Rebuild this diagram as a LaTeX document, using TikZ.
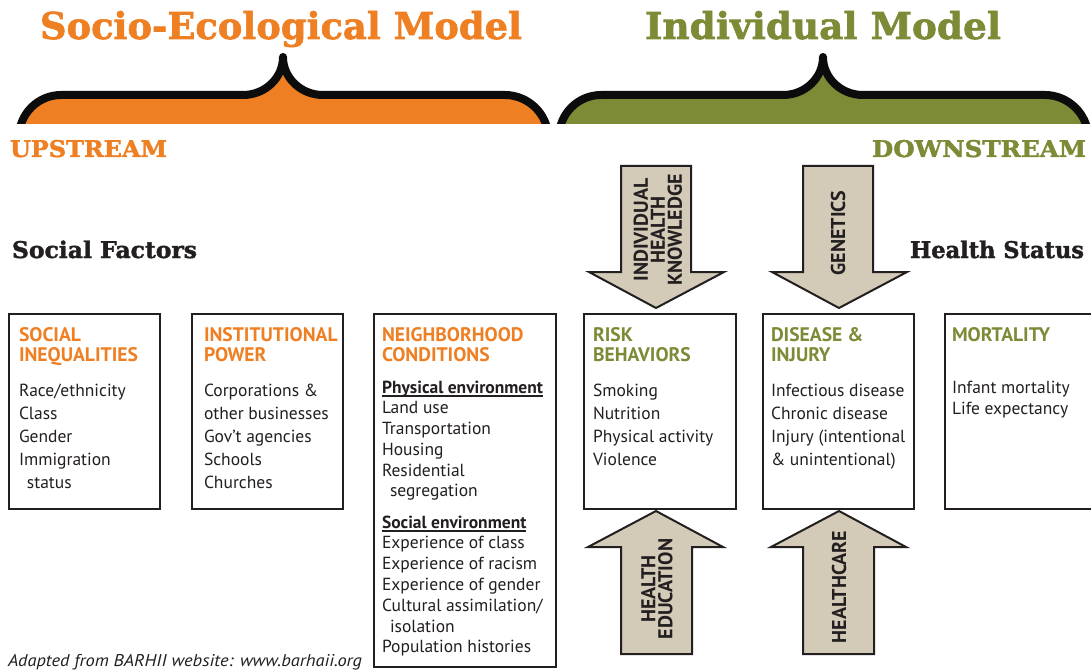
\documentclass[tikz,border=0pt]{standalone}
\usepackage{fontspec}
\setmainfont{PT Sans}
\newfontfamily\slab{DejaVu Serif}[BoldFeatures={FakeBold=1.6}]
\usepackage{graphicx}
\definecolor{orng}{RGB}{238,127,35}
\definecolor{grn}{RGB}{125,138,54}
\definecolor{tanc}{RGB}{211,203,184}
\definecolor{ink}{RGB}{35,31,32}
\definecolor{brk}{RGB}{12,12,12}
\tikzset{
  lbl/.style={inner sep=0pt, outer sep=0pt, anchor=base west, text=ink, font=\fontsize{17.5}{20}\selectfont},
  head/.style={inner sep=0pt, outer sep=0pt, anchor=base west, font=\bfseries\fontsize{19.6}{20}\selectfont},
  slabt/.style={inner sep=0pt, outer sep=0pt, anchor=base west, font=\slab\bfseries},
  card/.style={draw=ink, line width=2.2pt, anchor=north west, inner sep=0pt, outer sep=0pt, minimum height=195pt},
  bigarrow/.style={fill=tanc, draw=ink, line width=2pt, line join=miter},
  bracestroke/.style={draw=brk, line width=8pt, line cap=round, line join=round},
  vlab/.style={rotate=90, align=center, text=ink, inner sep=0pt, font=\bfseries\fontsize{20}{17}\selectfont}
}
\newcommand\stack[5]{%
  \foreach \t [count=\i from 0] in {#5} {\node[lbl] (#1\i) at (#2,#3+\i*#4) {\t};}}
\begin{document}
\begin{tikzpicture}[x=1pt,y=-1pt]
\useasboundingbox (0,0) rectangle (1091,671);
\fill[white] (0,0) rectangle (1091,671);
% braces
\begin{scope}
\clip (0,0) rectangle (1091,124);
\foreach \dx/\c in {0/orng,540/grn} {
  \begin{scope}[xshift=\dx pt]
  \fill[\c] (19,137) .. controls (19,114) and (38,95) .. (61,95) -- (243,95)
     .. controls (265,95) and (283,78) .. (283,57) .. controls (283,78) and (301,95) .. (323,95)
     -- (505,95) .. controls (528,95) and (548,114) .. (548,137) -- cycle;
  \draw[bracestroke] (19,137) .. controls (19,114) and (38,95) .. (61,95) -- (243,95)
     .. controls (265,95) and (283,78) .. (283,57) .. controls (283,78) and (301,95) .. (323,95)
     -- (505,95) .. controls (528,95) and (548,114) .. (548,137);
  \end{scope}
}
\end{scope}
% titles
\node[slabt, text=orng] (t1) at (40,39) {\resizebox{482pt}{\height}{\fontsize{37}{37}\selectfont Socio-Ecological Model}};
\node[slabt, text=grn] (t2) at (645,39) {\resizebox{356pt}{\height}{\fontsize{37}{37}\selectfont Individual Model}};
\node[slabt, text=orng] (up) at (10,157) {\resizebox{157pt}{\height}{\fontsize{23}{23}\selectfont UPSTREAM}};
\node[slabt, text=grn] (down) at (872,157) {\resizebox{214pt}{\height}{\fontsize{23}{23}\selectfont DOWNSTREAM}};
\node[slabt, text=ink] (sf) at (12,258) {\resizebox{185pt}{\height}{\fontsize{23}{23}\selectfont Social Factors}};
\node[slabt, text=ink] (hs) at (910,258) {\resizebox{174pt}{\height}{\fontsize{23}{23}\selectfont Health Status}};
% arrows
\draw[bigarrow] (621,166) -- (691,166) -- (691,272) -- (724,272) -- (656,308) -- (589,272) -- (621,272) -- cycle;
\draw[bigarrow] (803,166) -- (873,166) -- (873,272) -- (907,272) -- (839,308) -- (772,272) -- (803,272) -- cycle;
\draw[bigarrow] (656,511) -- (723,547) -- (692,547) -- (692,654) -- (621,654) -- (621,547) -- (588,547) -- cycle;
\draw[bigarrow] (839,511) -- (906,547) -- (874,547) -- (874,654) -- (803,654) -- (803,547) -- (771,547) -- cycle;
\node[vlab] (ihk) at (658,230) {INDIVIDUAL\\HEALTH\\KNOWLEDGE};
\node[vlab] (gen) at (838,233) {GENETICS};
\node[vlab] (hed) at (657,589) {HEALTH\\EDUCATION};
\node[vlab] (hc) at (839,587) {HEALTHCARE};
% boxes
\node[card, minimum width=151pt] (si) at (9,314) {};
\node[card, minimum width=151pt] (ip) at (192,314) {};
\node[card, minimum width=182pt, minimum height=353pt] (nc) at (374,314) {};
\node[card, minimum width=152pt] (rb) at (584,314) {};
\node[card, minimum width=151pt] (di) at (763,314) {};
\node[card, minimum width=170pt] (mo) at (945,314) {};
% box texts
\node[head, text=orng] (h1) at (19,341) {SOCIAL};
\node[head, text=orng] (h1b) at (19,361) {INEQUALITIES};
\stack{si}{19}{396}{23}{Race/ethnicity,Class,Gender,Immigration,\hspace*{8pt}status}
\node[head, text=orng] (h2) at (204,341) {INSTITUTIONAL};
\node[head, text=orng] (h2b) at (204,361) {POWER};
\stack{ip}{204}{396}{23}{Corporations \&,other businesses,Gov’t agencies,Schools,Churches}
\node[head, text=orng] (h3) at (382,341) {NEIGHBORHOOD};
\node[head, text=orng] (h3b) at (382,361) {CONDITIONS};
\node[lbl, font=\bfseries\fontsize{17.5}{20}\selectfont] (phys) at (382,393) {Physical environment};
\draw[ink, line width=1.2pt] ([yshift=-3pt]phys.base west) -- ([yshift=-3pt]phys.base east);
\stack{pe}{382}{413.75}{20.75}{Land use,Transportation,Housing,Residential,\hspace*{8pt}segregation}
\node[lbl, font=\bfseries\fontsize{17.5}{20}\selectfont] (soc) at (382,528) {Social environment};
\draw[ink, line width=1.2pt] ([yshift=-3pt]soc.base west) -- ([yshift=-3pt]soc.base east);
\stack{se}{382}{548.8}{20.8}{Experience of class,Experience of racism,Experience of gender,Cultural assimilation/,\hspace*{8pt}isolation,Population histories}
\node[head, text=grn] (h4) at (593,341) {RISK};
\node[head, text=grn] (h4b) at (593,361) {BEHAVIORS};
\stack{rb}{593}{396}{23}{Smoking,Nutrition,Physical activity,Violence}
\node[head, text=grn] (h5) at (771,341) {DISEASE \&};
\node[head, text=grn] (h5b) at (771,361) {INJURY};
\stack{di}{771}{396}{23}{Infectious disease,Chronic disease,Injury (intentional,\& unintentional)}
\node[head, text=grn] (h6) at (952,341) {MORTALITY};
\stack{mo}{952}{393}{21}{Infant mortality,Life expectancy}
% footer
\node[lbl, font=\itshape\fontsize{17}{17}\selectfont] (src) at (8,666) {\resizebox{354pt}{\height}{Adapted from BARHII website: www.barhaii.org}};
\end{tikzpicture}
\end{document}
